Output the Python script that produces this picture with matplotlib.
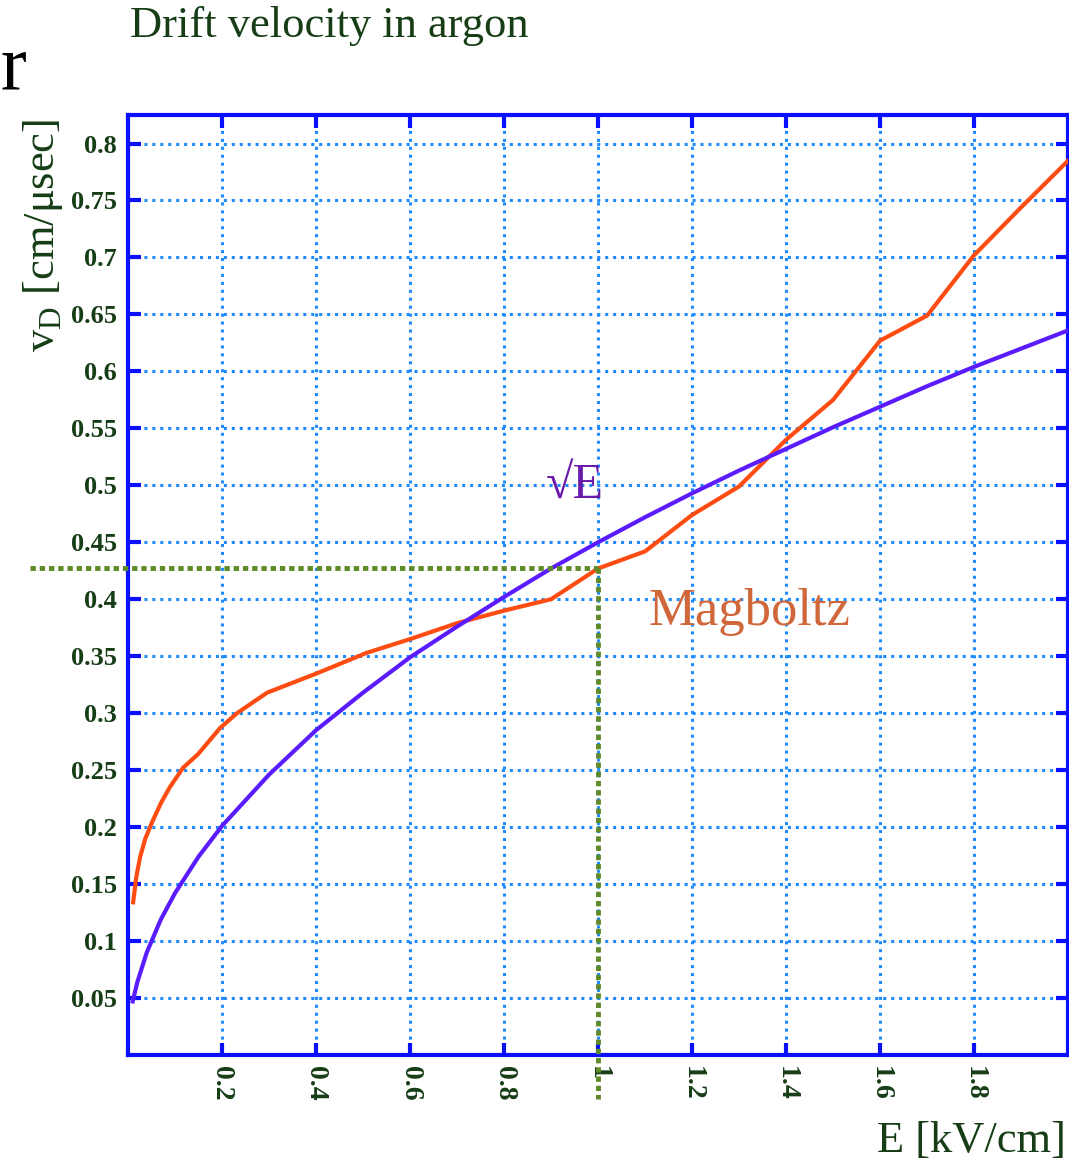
import matplotlib
matplotlib.use("Agg")
import matplotlib.pyplot as plt

# values
E_sqrt = [0.01, 0.02, 0.04, 0.07, 0.1, 0.15, 0.2, 0.3, 0.4, 0.5, 0.6, 0.7, 0.8,
          0.9, 1.0, 1.1, 1.2, 1.3, 1.4, 1.5, 1.6, 1.7, 1.8, 1.9, 2.0]
v_sqrt = [0.047, 0.064, 0.090, 0.119, 0.142, 0.174, 0.201, 0.246, 0.285, 0.318,
          0.349, 0.376, 0.402, 0.427, 0.450, 0.472, 0.493, 0.513, 0.532, 0.551,
          0.569, 0.587, 0.604, 0.620, 0.636]

E_mag = [0.011, 0.018, 0.026, 0.037, 0.051, 0.07, 0.089, 0.117, 0.149, 0.196,
         0.232, 0.296, 0.402, 0.508, 0.6, 0.7, 0.8, 0.9, 1.0, 1.1, 1.2, 1.3,
         1.4, 1.5, 1.6, 1.7, 1.8, 1.9, 2.0]
v_mag = [0.134, 0.157, 0.174, 0.190, 0.204, 0.221, 0.235, 0.252, 0.264, 0.287,
         0.300, 0.318, 0.335, 0.353, 0.365, 0.379, 0.390, 0.400, 0.427, 0.442,
         0.474, 0.499, 0.540, 0.575, 0.627, 0.649, 0.702, 0.744, 0.785]

xticks = [0.2, 0.4, 0.6, 0.8, 1.0, 1.2, 1.4, 1.6, 1.8]
xlabels = ["0.2", "0.4", "0.6", "0.8", "1", "1.2", "1.4", "1.6", "1.8"]
yticks = [0.05, 0.1, 0.15, 0.2, 0.25, 0.3, 0.35, 0.4, 0.45, 0.5, 0.55, 0.6,
          0.65, 0.7, 0.75, 0.8]
ylabels = ["0.05", "0.1", "0.15", "0.2", "0.25", "0.3", "0.35", "0.4", "0.45",
           "0.5", "0.55", "0.6", "0.65", "0.7", "0.75", "0.8"]

E_mark = 1.0
v_mark = 0.427

plt.rcParams['font.family'] = ['Liberation Serif', 'DejaVu Serif']
plt.rcParams['mathtext.fontset'] = 'custom'
plt.rcParams['mathtext.rm'] = 'Liberation Serif'
dark = "#163d16"

fig = plt.figure(figsize=(10.69, 11.62), dpi=100)
ax = fig.add_axes([0.1197, 0.0921, 0.8795, 0.8089])

ax.set_xlim(0, 2.0)
ax.set_ylim(0, 0.825)

ax.grid(True, color="#1e8cff", linestyle=(0, (1, 1.6)), linewidth=2.2)
ax.set_axisbelow(True)

ax.plot(E_mag, v_mag, color="#ff4c12", lw=3, zorder=3)
ax.plot(E_sqrt, v_sqrt, color="#5a1cff", lw=3, zorder=3)

# green guide lines
ax.plot([-0.2085, E_mark], [v_mark, v_mark], color="#5e8a28", lw=3.5,
        linestyle=(0, (1.1, 0.8)), clip_on=False, zorder=4)
ax.plot([E_mark, E_mark], [v_mark, -0.039], color="#5e8a28", lw=3.5,
        linestyle=(0, (1.1, 0.8)), clip_on=False, zorder=4)

for s in ax.spines.values():
    s.set_color("#0a10ff")
    s.set_linewidth(3)

ax.set_xticks(xticks)
ax.set_xticklabels(xlabels, rotation=-90, fontsize=20, color=dark,
                   fontweight="bold")
ax.set_yticks(yticks)
ax.set_yticklabels(ylabels, fontsize=19, color=dark, fontweight="bold")
ax.tick_params(direction="in", length=9, width=3, color="#0a10ff",
               top=True, right=True, pad=8)

ax.text(0.951, 0.5, "√E", color="#6a1aaa", fontsize=36, zorder=5,
        ha="center", va="center")
ax.text(1.107, 0.389, "Magboltz", color="#d0673a", fontsize=38, zorder=5,
        ha="left", va="center")

fig.text(0.122, 0.978, "Drift velocity in argon", color=dark, fontsize=32,
         va="center", ha="left")
fig.text(0.0, 0.94, "r", color="black", fontsize=56, va="center", ha="left")
fig.text(0.040, 0.797, r"v$_\mathrm{D}$ [cm/μsec]", color=dark, fontsize=32,
         rotation=90, va="center", ha="center")
fig.text(0.997, 0.018, "E [kV/cm]", color=dark, fontsize=32,
         va="center", ha="right")

fig.savefig("out.png", dpi=100)
